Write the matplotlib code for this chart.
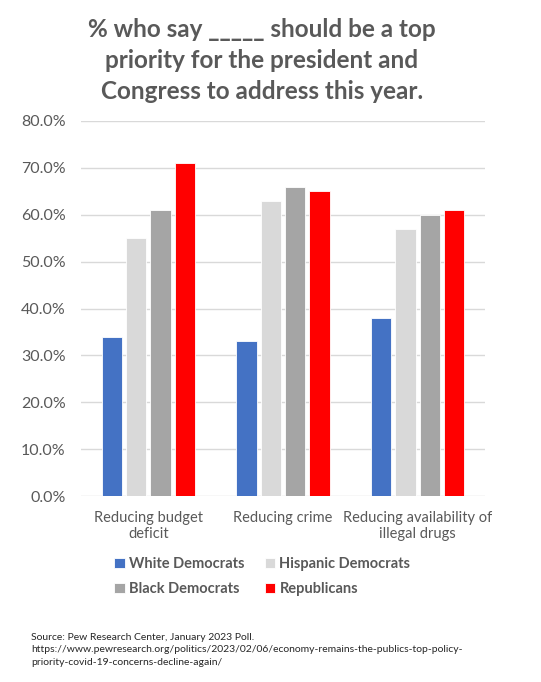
import matplotlib.pyplot as plt
import numpy as np

categories = ["Reducing budget\ndeficit", "Reducing crime", "Reducing availability of\nillegal drugs"]
groups = ["White Democrats", "Hispanic Democrats", "Black Democrats", "Republicans"]
white_dem = [34, 33, 38]
hispanic_dem = [55, 63, 57]
black_dem = [61, 66, 60]
republicans = [71, 65, 61]
yticks = [0, 10, 20, 30, 40, 50, 60, 70, 80]

colors = ["#4472C4", "#D9D9D9", "#A5A5A5", "#FF0000"]
text_gray = "#595959"

plt.rcParams['font.family'] = ['Lato', 'DejaVu Sans']

fig = plt.figure(figsize=(5.41, 6.82), dpi=100)
ax = fig.add_axes([0.1497, 0.2727, 0.7468, 0.5499])

x = np.arange(len(categories))
step = 0.181
width = 0.15
series = [white_dem, hispanic_dem, black_dem, republicans]
handles = []
for i, vals in enumerate(series):
    b = ax.bar(x + (i - 1.5) * step, vals, width, color=colors[i],
               edgecolor="white", linewidth=0.6, label=groups[i], zorder=3)
    handles.append(b)

ax.set_xlim(-0.5, 2.5)
ax.set_ylim(0, 80)
ax.set_yticks(yticks)
ax.set_yticklabels([f"{v:.1f}%" for v in yticks], fontsize=11.5, color=text_gray)
ax.set_xticks(x)
ax.set_xticklabels(categories, fontsize=10.5, color=text_gray, linespacing=1.2)
ax.tick_params(axis="y", length=0, pad=11)
ax.tick_params(axis="x", length=0, pad=11)
ax.grid(axis="y", color="#D9D9D9", linewidth=1, zorder=0)
for s in ax.spines.values():
    s.set_visible(False)

# title block
fig.text(0.484, 0.974, "% who say _____ should be a top\npriority for the president and\nCongress to address this year.",
         ha="center", va="top", fontsize=17.5, fontweight="bold", color=text_gray, linespacing=1.42)

order = [0, 2, 1, 3]
leg = fig.legend([handles[i] for i in order], [groups[i] for i in order], ncol=2,
                 loc="center", bbox_to_anchor=(0.485, 0.155),
                 frameon=False, fontsize=10.5, handlelength=0.7, handleheight=0.7,
                 handletextpad=0.3, columnspacing=1.4, labelspacing=0.75)
for t in leg.get_texts():
    t.set_color(text_gray)
    t.set_fontweight("bold")

fig.text(0.057, 0.047, "Source: Pew Research Center, January 2023 Poll.\n"
         "https://www.pewresearch.org/politics/2023/02/06/economy-remains-the-publics-top-policy-\n"
         "priority-covid-19-concerns-decline-again/",
         ha="left", va="center", fontsize=7.5, color="#262626", linespacing=1.55)

fig.savefig("out.png", dpi=100, facecolor="white")
